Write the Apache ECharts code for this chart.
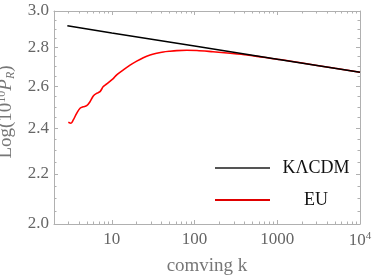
<!DOCTYPE html>
<html><head><meta charset="utf-8">
<script src="https://cdn.jsdelivr.net/npm/echarts@6/dist/echarts.min.js"></script>
<style>html,body{margin:0;padding:0;background:#fff}#c{width:374px;height:276px}</style>
</head><body><div id="c"></div>
<script>
// Data
const lcdmK = [2.9, 3, 10, 100, 1000, 10000];
const lcdmP = [2.917, 2.916, 2.877, 2.807, 2.737, 2.670];
const euK = [2.98, 3.21, 3.42, 3.76, 4.13, 4.52, 4.97, 5.45, 5.97, 6.57, 7.20, 7.89, 8.68, 10.4, 11.46, 13.77, 16.6, 20.0, 24.0, 29.0, 34.9, 41.9, 50.5, 60.9, 80.5, 107, 167, 269, 431, 673, 1081, 2000, 5000, 10000];
const euP = [2.427, 2.4225, 2.438, 2.469, 2.493, 2.500, 2.505, 2.524, 2.552, 2.565, 2.573, 2.598, 2.611, 2.638, 2.657, 2.682, 2.706, 2.727, 2.745, 2.759, 2.768, 2.775, 2.779, 2.782, 2.784, 2.783, 2.776, 2.768, 2.759, 2.747, 2.735, 2.717, 2.690, 2.670];
const xMajor = [10, 100, 1000, 10000];
const xMajorLabels = ['10', '100', '1000', '10{sup|4}'];
const xMinor = [2,3,4,5,6,7,8,9,20,30,40,50,60,70,80,90,200,300,400,500,600,700,800,900,2000,3000,4000,5000,6000,7000,8000,9000];
const yMajor = [2.0, 2.2, 2.4, 2.6, 2.8, 3.0];
const yMinor = [2.05,2.1,2.15,2.25,2.3,2.35,2.45,2.5,2.55,2.65,2.7,2.75,2.85,2.9,2.95];
const seriesNames = ['K\u039BCDM', 'EU'];

const FONT = 'Liberation Serif';
const frame = '#b0b0b0';
const L = Math.log10;
function zipLog(a, b) { return a.map((v, i) => [L(v), L(b[i])]); }
function nearestIdx(arr, v) { let bi = 0, bd = Infinity; arr.forEach((a, i) => { const d = Math.abs(L(a) - v); if (d < bd) { bd = d; bi = i; } }); return bi; }

function xAx(pos, ticks, len, main) {
  return {
    type: 'value', min: L(2), max: L(10000), position: pos,
    axisLine: { show: main, lineStyle: { color: frame, width: 1 } },
    axisTick: { show: true, inside: true, length: len, customValues: ticks.map(L), lineStyle: { color: frame } },
    axisLabel: main && pos === 'bottom' ? {
      show: true, customValues: xMajor.map(L), margin: 7, color: '#666', fontFamily: FONT, fontSize: 17,
      formatter: v => xMajorLabels[nearestIdx(xMajor, v)],
      rich: { sup: { fontSize: 11, fontFamily: FONT, color: '#666', verticalAlign: 'top', padding: [0, 0, 8, 0] } }
    } : { show: false },
    splitLine: { show: false },
    name: main && pos === 'bottom' ? 'comving k' : '',
    nameLocation: 'middle', nameGap: 33,
    nameTextStyle: { color: '#777', fontFamily: FONT, fontSize: 19 }
  };
}
function yAx(pos, ticks, len, main) {
  return {
    type: 'value', min: L(2), max: L(3), position: pos,
    axisLine: { show: main, lineStyle: { color: frame, width: 1 } },
    axisTick: { show: true, inside: true, length: len, customValues: ticks.map(L), lineStyle: { color: frame } },
    axisLabel: main && pos === 'left' ? {
      show: true, customValues: yMajor.map(L), margin: 5, color: '#666', fontFamily: FONT, fontSize: 17,
      formatter: v => yMajor[nearestIdx(yMajor, v)].toFixed(1)
    } : { show: false },
    splitLine: { show: false },
    name: main && pos === 'left' ? 'Log(10{sup|10}{it|P}{sub|R})' : '',
    nameLocation: 'middle', nameGap: 34,
    nameTextStyle: {
      color: '#777', fontFamily: FONT, fontSize: 19, padding: [0, 0, 0, 11],
      rich: {
        sup: { fontSize: 12, fontFamily: FONT, color: '#777', verticalAlign: 'top', padding: [0, 0, 9, 0] },
        it: { fontSize: 19, fontFamily: FONT, color: '#777', fontStyle: 'italic' },
        sub: { fontSize: 12, fontFamily: FONT, color: '#777', fontStyle: 'italic', verticalAlign: 'bottom', padding: [9, 0, 0, 0] }
      }
    }
  };
}

const chart = echarts.init(document.getElementById('c'), null, { renderer: 'canvas' });
chart.setOption({
  animation: false,
  backgroundColor: '#fff',
  grid: { left: 54, right: 14, top: 11, bottom: 52, outerBoundsMode: 'none', containLabel: false },
  xAxis: [
    xAx('bottom', xMajor, 4, true), xAx('bottom', xMinor, 2.5, false),
    xAx('top', xMajor, 4, true), xAx('top', xMinor, 2.5, false)
  ],
  yAxis: [
    yAx('left', yMajor, 4, true), yAx('left', yMinor, 2.5, false),
    yAx('right', yMajor, 4, true), yAx('right', yMinor, 2.5, false)
  ],
  legend: {
    orient: 'vertical', left: 210, top: 154, itemWidth: 55, itemHeight: 2, itemGap: 14,
    data: [
      { name: seriesNames[0], icon: 'rect', itemStyle: { color: '#555' } },
      { name: seriesNames[1], icon: 'rect', itemStyle: { color: '#e00000' } }
    ],
    formatter: n => '{c|' + n + '}',
    textStyle: { color: '#111', fontFamily: FONT, fontSize: 18,
      rich: { c: { width: 70, align: 'center', fontFamily: FONT, fontSize: 18, color: '#111', padding: [0, 0, 0, 6] } } }
  },
  series: [
    { name: seriesNames[0], type: 'line', data: zipLog(lcdmK, lcdmP), showSymbol: false, symbol: 'none',
      lineStyle: { color: '#000', width: 1.6 }, itemStyle: { color: '#000' }, z: 3 },
    { name: seriesNames[1], type: 'line', data: zipLog(euK, euP), showSymbol: false, symbol: 'none', smooth: 0.3,
      lineStyle: { color: '#ff0000', width: 1.6 }, itemStyle: { color: '#ff0000' }, z: 2 }
  ]
});
</script></body></html>
